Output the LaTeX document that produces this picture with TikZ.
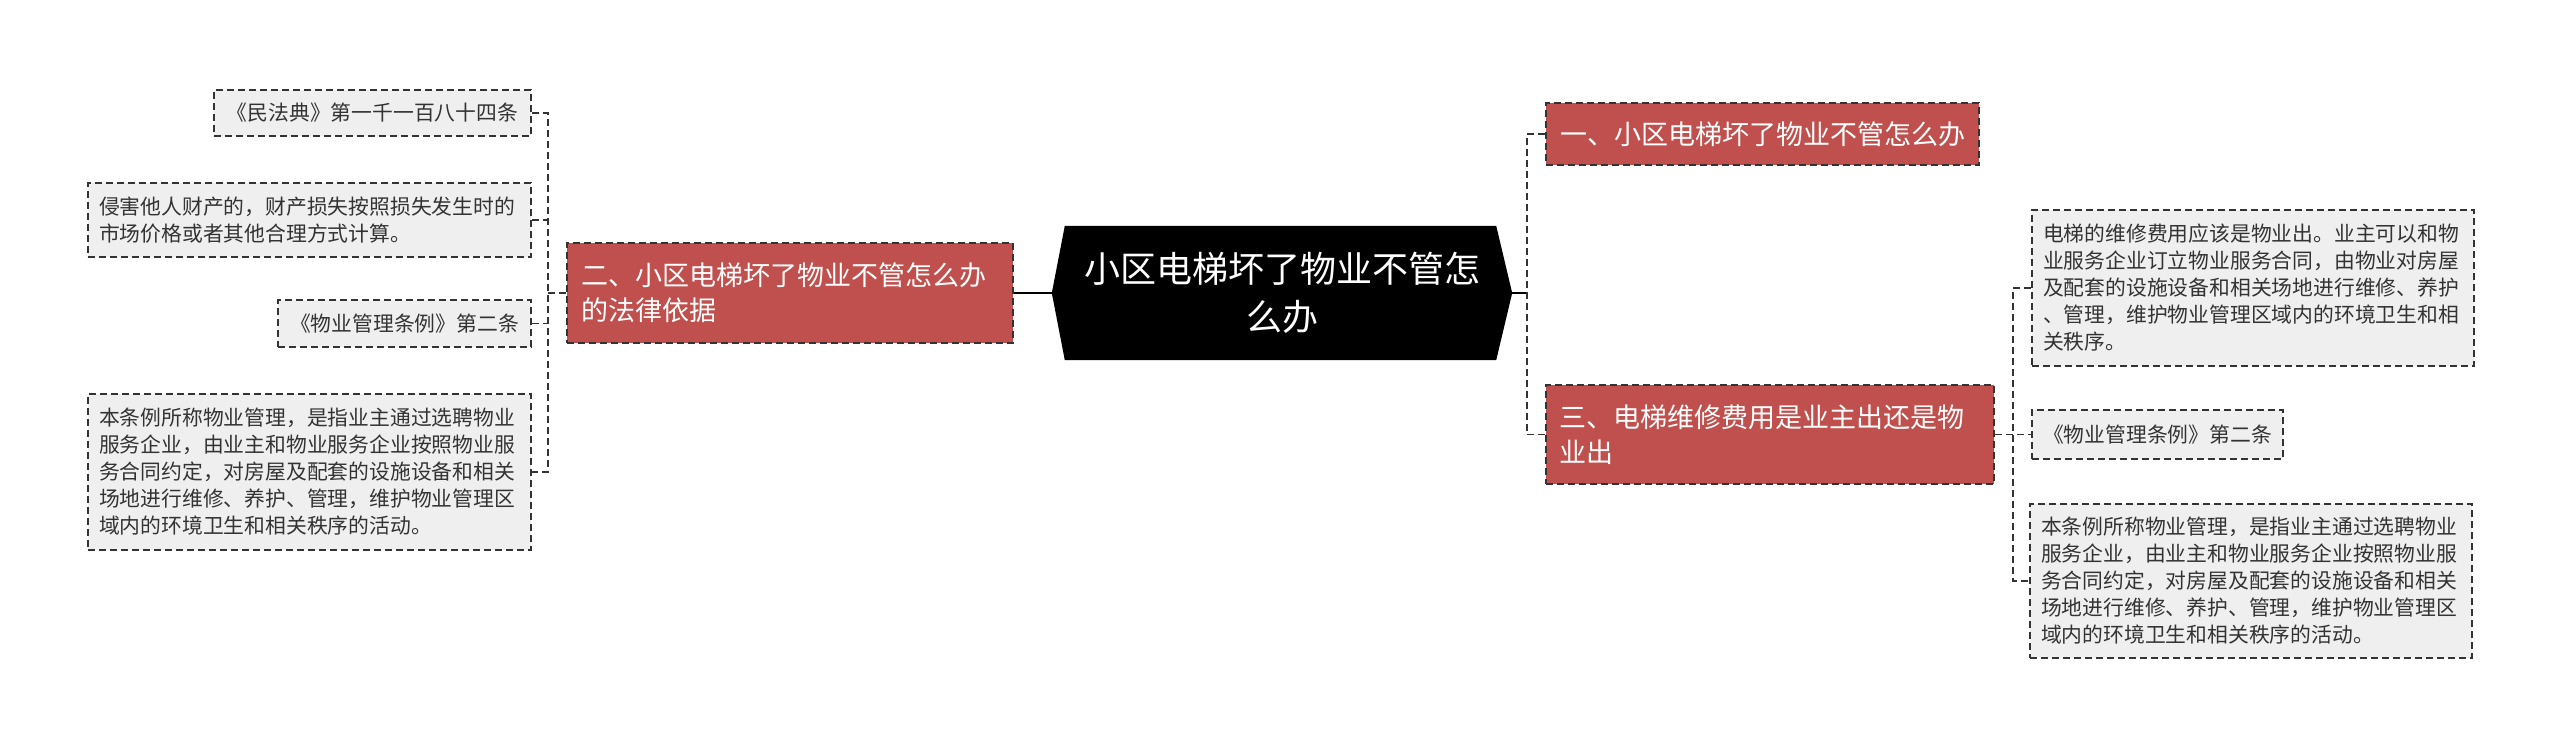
\documentclass[tikz,border=0pt]{standalone}
\usepackage{fontspec}
\setmainfont{Noto Sans CJK SC}
\usetikzlibrary{backgrounds}
\definecolor{redfill}{RGB}{192,80,77}
\definecolor{grayfill}{RGB}{239,239,239}
\definecolor{ink}{RGB}{51,51,51}
\tikzset{
  dashborder/.style={line width=1.8pt, dash pattern=on 7pt off 4pt},
  redbox/.style={rectangle, dashborder, draw=ink, fill=redfill, text=white,
    font=\fontsize{27}{35}\selectfont, align=left, inner xsep=13pt, inner ysep=0pt},
  graybox/.style={rectangle, dashborder, draw=ink, fill=grayfill, text=ink,
    font=\fontsize{20.8}{27}\selectfont, align=left, inner xsep=11pt, inner ysep=0pt},
  conn/.style={draw=ink, line width=1.8pt, dash pattern=on 7pt off 4pt},
  mainline/.style={draw=black, line width=2.5pt},
  centralbox/.style={rectangle, text=white, inner sep=0pt, align=center,
    font=\fontsize{36}{48}\selectfont, minimum width=460pt, minimum height=134pt}
}
\begin{document}
\begin{tikzpicture}[x=1pt,y=-1pt]
\useasboundingbox (0,0) rectangle (2560,749);

% central
\node[centralbox] (C) at (1282,293) {小区电梯坏了物业不管怎\\么办};
\begin{pgfonlayer}{background}
  \fill[white] (0,0) rectangle (2560,749);
  \fill[black] (C.west) -- ([xshift=13pt]C.north west) -- ([xshift=-16pt]C.north east)
    -- (C.east) -- ([xshift=-16pt]C.south east) -- ([xshift=13pt]C.south west) -- cycle;
\end{pgfonlayer}

% left branch
\node[redbox, inner xsep=14pt, text width=418pt, minimum height=100pt] (L) at (790,293)
  {二、小区电梯坏了物业不管怎么办\\的法律依据};

\node[graybox, align=center, minimum width=317pt, minimum height=46pt] (G1) at (372.5,113)
  {《民法典》第一千一百八十四条};
\node[graybox, text width=421pt, minimum height=74pt] (G2) at (309.5,220)
  {侵害他人财产的，财产损失按照损失发生时的\\市场价格或者其他合理方式计算。};
\node[graybox, align=center, minimum width=253pt, minimum height=47pt] (G3) at (404.5,323.5)
  {《物业管理条例》第二条};
\node[graybox, text width=421pt, minimum height=156pt] (G4) at (309.5,472)
  {本条例所称物业管理，是指业主通过选聘物业\\服务企业，由业主和物业服务企业按照物业服\\务合同约定，对房屋及配套的设施设备和相关\\场地进行维修、养护、管理，维护物业管理区\\域内的环境卫生和相关秩序的活动。};

% right branches
\node[redbox, align=center, minimum width=433pt, minimum height=62pt] (R1) at (1762.5,134)
  {一、小区电梯坏了物业不管怎么办};
\node[redbox, text width=422pt, minimum height=99pt] (R3) at (1770,434.5)
  {三、电梯维修费用是业主出还是物\\业出};

\node[graybox, text width=420pt, minimum height=156pt] (H1) at (2253,288)
  {电梯的维修费用应该是物业出。业主可以和物\\业服务企业订立物业服务合同，由物业对房屋\\及配套的设施设备和相关场地进行维修、养护\\、管理，维护物业管理区域内的环境卫生和相\\关秩序。};
\node[graybox, align=center, minimum width=251pt, minimum height=49pt] (H2) at (2157.5,434.5)
  {《物业管理条例》第二条};
\node[graybox, text width=420pt, minimum height=154pt] (H3) at (2251,581)
  {本条例所称物业管理，是指业主通过选聘物业\\服务企业，由业主和物业服务企业按照物业服\\务合同约定，对房屋及配套的设施设备和相关\\场地进行维修、养护、管理，维护物业管理区\\域内的环境卫生和相关秩序的活动。};

% junctions
\coordinate (lj) at (548,293);
\coordinate (rj) at (1527,293);
\coordinate (hj) at (2013,434.5);

% connectors
\draw[mainline] (L.east) -- (C.west);
\draw[mainline] (C.east) -- (rj);

\draw[conn] (G1.east) -| (lj) |- (G4.east);
\draw[conn] (G2.east) -- (G2.east -| lj);
\draw[conn] (G3.east) -- (G3.east -| lj);
\draw[conn] (L.west) -- (lj);

\draw[conn] (R1.west) -| (rj) |- (R3.west);

\draw[conn] (H1.west) -| (hj) |- (H3.west);
\draw[conn] (R3.east) -- (hj) -- (H2.west);
\end{tikzpicture}
\end{document}
